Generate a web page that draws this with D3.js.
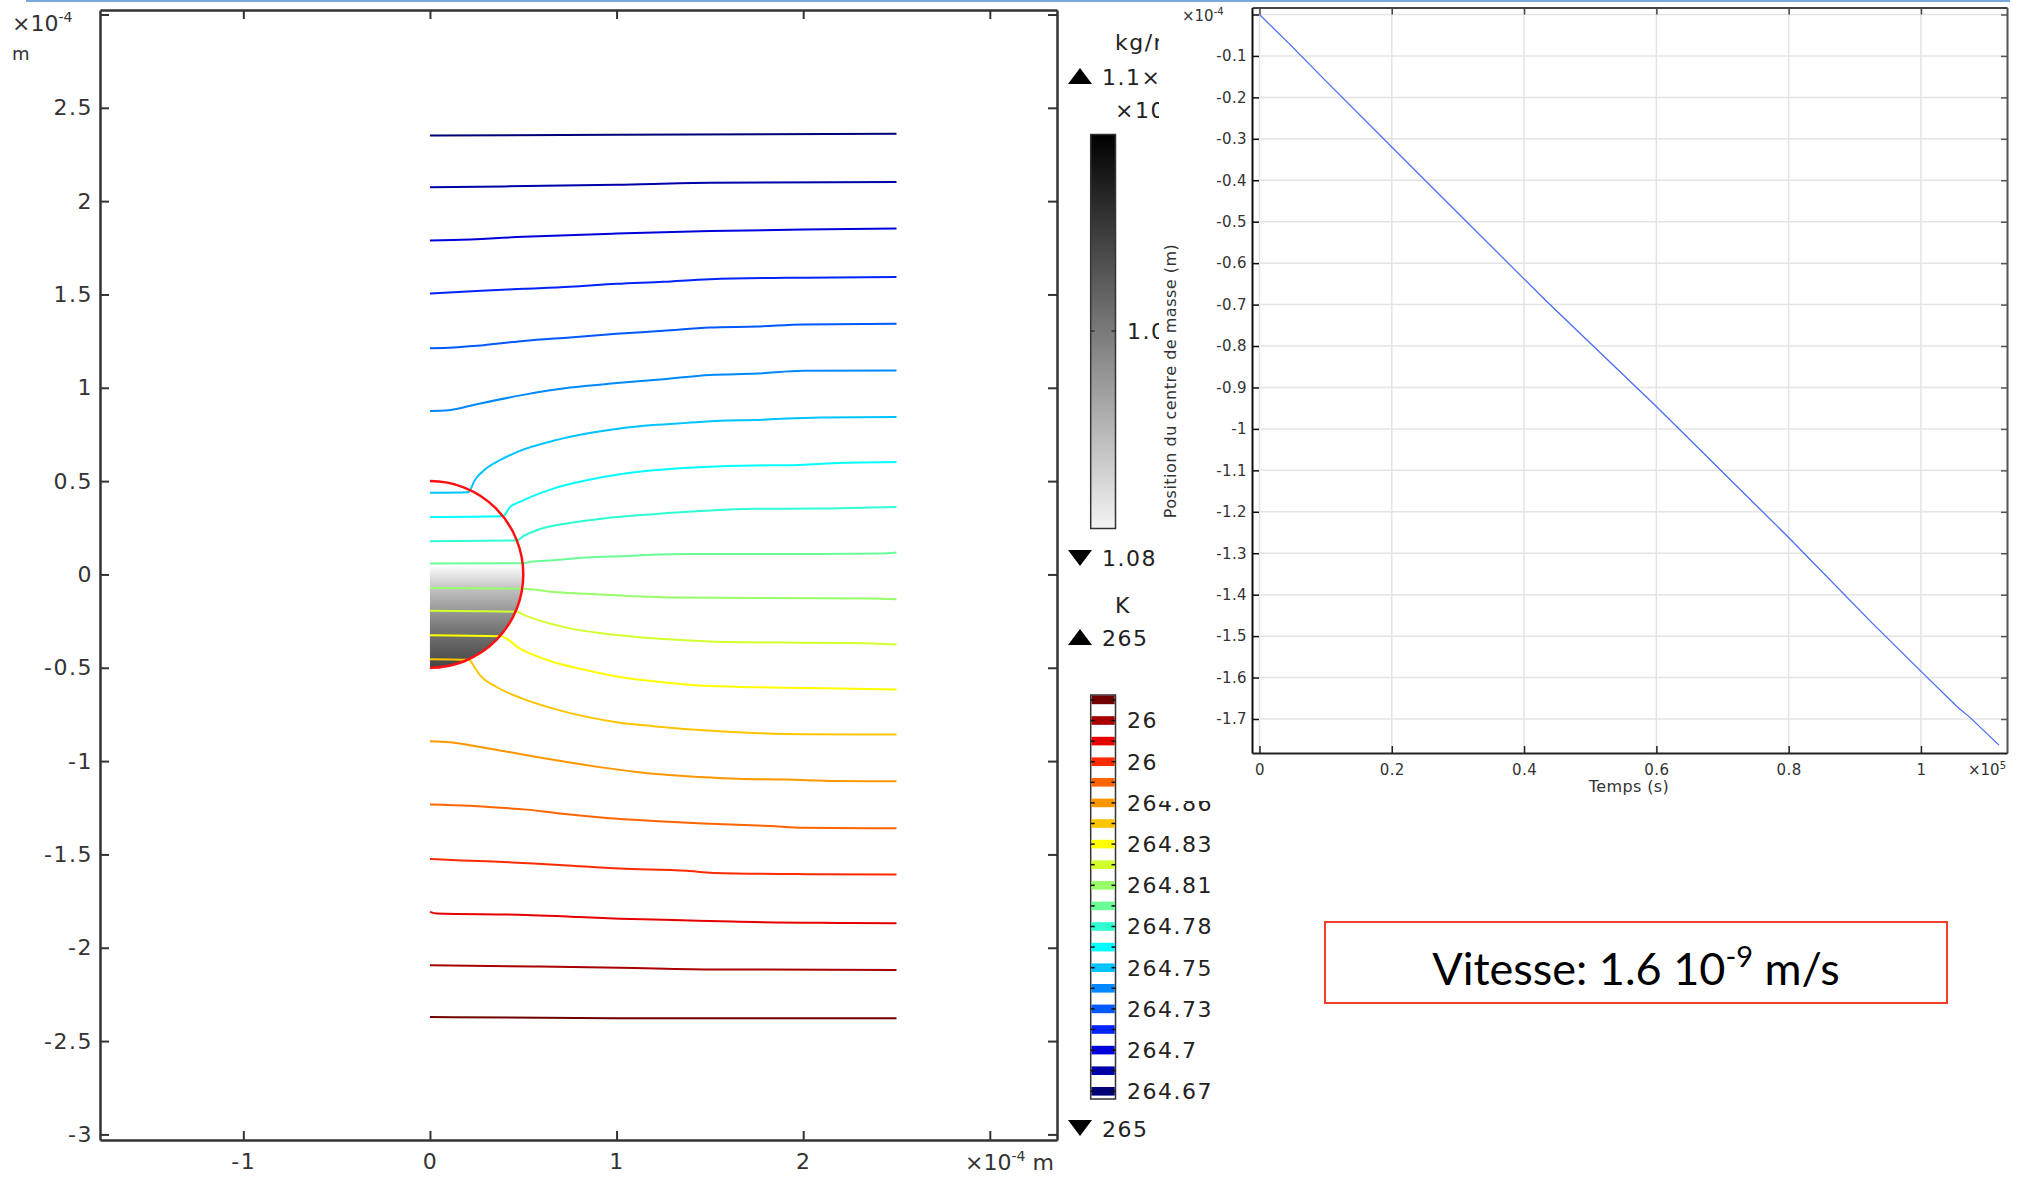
<!DOCTYPE html>
<html>
<head>
<meta charset="utf-8">
<script src="https://cdn.jsdelivr.net/npm/d3@7"></script>
<style>
  body { margin: 0; background: #fff; }
  svg text { font-family: "DejaVu Sans", sans-serif; }
</style>
</head>
<body>
<div id="chart"></div>
<script>
// isotherms, x and y in 1e-4 m, read from top to bottom
var line01 = [[0,2.352],[1.0,2.355],[2.5,2.361]];
var line02 = [[0,2.075],[0.4,2.079],[1.0,2.088],[1.5,2.098],[2.5,2.102]];
var line03 = [[0,1.789],[0.125,1.792],[0.5,1.809],[1.0,1.826],[1.5,1.840],[2.0,1.848],[2.5,1.853]];
var line04 = [[0,1.505],[0.25,1.519],[0.5,1.530],[0.75,1.541],[1.0,1.557],[1.25,1.568],[1.5,1.582],[2.0,1.590],[2.5,1.593]];
var line05 = [[0,1.212],[0.125,1.216],[0.25,1.225],[0.5,1.251],[0.75,1.270],[1.0,1.289],[1.25,1.305],[1.5,1.323],[1.75,1.328],[2.0,1.339],[2.5,1.343]];
var line06 = [[0,0.876],[0.1,0.880],[0.25,0.912],[0.5,0.962],[0.75,1.001],[1.0,1.025],[1.25,1.046],[1.5,1.069],[1.75,1.076],[2.0,1.091],[2.5,1.093]];
var line07 = [[0,0.437],[0.205,0.440],[0.24,0.505],[0.304,0.570],[0.375,0.612],[0.482,0.662],[0.661,0.716],[0.840,0.755],[1.018,0.782],[1.197,0.800],[1.376,0.812],[1.554,0.823],[1.733,0.827],[2.09,0.841],[2.5,0.843]];
var line08 = [[0,0.308],[0.39,0.312],[0.429,0.362],[0.482,0.389],[0.661,0.460],[0.840,0.505],[1.018,0.537],[1.197,0.558],[1.465,0.576],[1.733,0.584],[1.911,0.585],[2.215,0.598],[2.5,0.602]];
var line09 = [[0,0.178],[0.466,0.182],[0.50,0.205],[0.572,0.237],[0.750,0.276],[0.929,0.300],[1.197,0.323],[1.465,0.341],[1.733,0.352],[2.09,0.353],[2.358,0.359],[2.5,0.361]];
var line10 = [[0,0.058],[0.500,0.060],[0.536,0.067],[0.661,0.076],[0.840,0.091],[1.018,0.098],[1.376,0.109],[2.09,0.109],[2.412,0.112],[2.5,0.118]];
var line11 = [[0,-0.073],[0.504,-0.076],[0.661,-0.094],[0.822,-0.103],[1.018,-0.113],[1.340,-0.124],[1.733,-0.126],[2.358,-0.129],[2.5,-0.133]];
var line12 = [[0,-0.195],[0.464,-0.200],[0.50,-0.215],[0.572,-0.242],[0.715,-0.281],[0.929,-0.317],[1.108,-0.335],[1.304,-0.349],[1.590,-0.362],[1.911,-0.365],[2.269,-0.367],[2.5,-0.375]];
var line13 = [[0,-0.326],[0.378,-0.331],[0.482,-0.397],[0.661,-0.469],[0.840,-0.513],[1.018,-0.549],[1.286,-0.581],[1.465,-0.597],[1.733,-0.604],[2.001,-0.608],[2.269,-0.612],[2.5,-0.617]];
var line14 = [[0,-0.454],[0.208,-0.457],[0.24,-0.500],[0.268,-0.540],[0.357,-0.603],[0.482,-0.660],[0.661,-0.719],[0.840,-0.763],[1.018,-0.794],[1.197,-0.813],[1.465,-0.835],[1.733,-0.849],[2.001,-0.856],[2.5,-0.858]];
var line15 = [[0,-0.894],[0.107,-0.899],[0.214,-0.915],[0.393,-0.946],[0.572,-0.978],[0.750,-1.008],[0.929,-1.035],[1.108,-1.058],[1.376,-1.081],[1.644,-1.094],[1.911,-1.099],[2.179,-1.106],[2.5,-1.108]];
var line16 = [[0,-1.232],[0.214,-1.239],[0.339,-1.247],[0.518,-1.260],[0.697,-1.281],[0.947,-1.305],[1.197,-1.321],[1.465,-1.335],[1.822,-1.348],[2.001,-1.357],[2.5,-1.360]];
var line17 = [[0,-1.524],[0.143,-1.531],[0.393,-1.540],[0.554,-1.549],[0.715,-1.558],[1.018,-1.576],[1.376,-1.588],[1.519,-1.599],[2.027,-1.606],[2.5,-1.608]];
var line18 = [[0,-1.808],[0.036,-1.817],[0.518,-1.824],[0.777,-1.835],[1.018,-1.844],[1.304,-1.851],[1.617,-1.860],[2.251,-1.867],[2.5,-1.869]];
var line19 = [[0,-2.094],[0.554,-2.100],[1.018,-2.107],[1.536,-2.116],[2.5,-2.119]];
var line20 = [[0,-2.371],[0.982,-2.378],[2.5,-2.378]];
var isotherms = [line01,line02,line03,line04,line05,line06,line07,line08,line09,line10,
                 line11,line12,line13,line14,line15,line16,line17,line18,line19,line20];

// colour legend bands, top (hot) to bottom (cold)
var bandColors = ["#700000","#a80000","#e60000","#ff2a00","#ff6400","#ff9600","#ffc400","#ffff00","#d2ff2d","#96ff69",
                  "#69ff96","#2dffd2","#00ffff","#00c4ff","#0088ff","#0058ff","#0024ff","#0000dc","#0000a8","#000078"];
var tempLabels = ["264.91","264.88","264.86","264.83","264.81","264.78","264.75","264.73","264.7","264.67"];
var tempLabelBands = [1,3,5,7,9,11,13,15,17,19];

var leftXTicks = [-1,0,1,2,3];
var leftYTicks = [3,2.5,2,1.5,1,0.5,0,-0.5,-1,-1.5,-2,-2.5,-3];
var sphereRadius = 0.5;

// position of centre of mass, time in 1e5 s, position in 1e-4 m
var timeValues = [0,0.046,0.105,0.254,0.432,0.6,0.8,0.926,1.004,1.054,1.074,1.097,1.118];
var positionValues = [0,-0.072,-0.168,-0.406,-0.689,-0.946,-1.262,-1.468,-1.591,-1.669,-1.696,-1.731,-1.763];
var rightXTicks = [0,0.2,0.4,0.6,0.8,1];
var rightYTicks = [0,-0.1,-0.2,-0.3,-0.4,-0.5,-0.6,-0.7,-0.8,-0.9,-1,-1.1,-1.2,-1.3,-1.4,-1.5,-1.6,-1.7];

var svg = d3.select("#chart").append("svg")
            .attr("width", 2031)
            .attr("height", 1180);

var defs = svg.append("defs");

//---------------- left plot ----------------
var xL = d3.scaleLinear().domain([-1.768, 3.36]).range([100, 1057]);
var yL = d3.scaleLinear().domain([-3.03, 3.024]).range([1140, 10]);

var shade = defs.append("linearGradient").attr("id", "shade")
   .attr("gradientUnits", "userSpaceOnUse")
   .attr("x1", 0).attr("x2", 0)
   .attr("y1", yL(0.05)).attr("y2", yL(-0.5));
shade.append("stop").attr("offset", 0).attr("stop-color", "#ffffff");
shade.append("stop").attr("offset", 0.25).attr("stop-color", "#bdbdbd");
shade.append("stop").attr("offset", 0.6).attr("stop-color", "#7a7a7a");
shade.append("stop").attr("offset", 1).attr("stop-color", "#444444");

var leftPlot = svg.append("g");
var r = xL(sphereRadius) - xL(0);

// density shading inside the half sphere
leftPlot.append("path")
  .attr("d", "M" + xL(0) + "," + yL(sphereRadius) +
             " A" + r + "," + r + " 0 0 1 " + xL(0) + "," + yL(-sphereRadius) + " Z")
  .style("fill", "url(#shade)");

var isoLine = d3.line()
  .x(d => xL(d[0]))
  .y(d => yL(d[1]))
  .curve(d3.curveMonotoneX);

leftPlot.selectAll(".iso").data(isotherms).enter().append("path")
  .attr("class", "iso")
  .attr("d", isoLine)
  .style("fill", "none")
  .style("stroke-width", 2)
  .style("stroke", (d, i) => bandColors[bandColors.length - 1 - i]);

// sphere boundary
leftPlot.append("path")
  .attr("d", "M" + xL(0) + "," + yL(sphereRadius) +
             " A" + r + "," + r + " 0 0 1 " + xL(0) + "," + yL(-sphereRadius))
  .style("fill", "none")
  .style("stroke", "#ff1010")
  .style("stroke-width", 2.5);

function styleAxis(g) {
  g.select(".domain").style("stroke", "#333").style("stroke-width", 2.5);
  g.selectAll(".tick line").style("stroke", "#333").style("stroke-width", 2);
  g.selectAll(".tick text").style("fill", "#333").style("font-size", "22px")
    .style("letter-spacing", "1.5px").style("font-family", "DejaVu Sans");
}

var noThree = d => (d === 3 ? "" : String(d));

leftPlot.append("g")
  .attr("transform", "translate(100,0)")
  .call(d3.axisLeft(yL).tickValues(leftYTicks).tickSize(-9).tickSizeOuter(0).tickPadding(7).tickFormat(noThree))
  .call(styleAxis);
leftPlot.append("g")
  .attr("transform", "translate(1057,0)")
  .call(d3.axisRight(yL).tickValues(leftYTicks).tickSize(-9).tickSizeOuter(0).tickFormat(""))
  .call(styleAxis);
leftPlot.append("g")
  .attr("transform", "translate(0,1140)")
  .call(d3.axisBottom(xL).tickValues(leftXTicks).tickSize(-9).tickSizeOuter(0).tickPadding(13).tickFormat(noThree))
  .call(styleAxis);
leftPlot.append("g")
  .attr("transform", "translate(0,10)")
  .call(d3.axisTop(xL).tickValues(leftXTicks).tickSize(-9).tickSizeOuter(0).tickFormat(""))
  .call(styleAxis);

// unit labels of the left plot
var topUnit = leftPlot.append("text").attr("x", 12).attr("y", 31)
  .style("font-size", "22px").style("fill", "#333");
topUnit.append("tspan").text("×10");
topUnit.append("tspan").attr("dy", -9).style("font-size", "14px").text("-4");
leftPlot.append("text").attr("x", 12).attr("y", 60)
  .style("font-size", "18px").style("fill", "#333").text("m");

var bottomUnit = leftPlot.append("text").attr("x", 965).attr("y", 1170)
  .style("font-size", "22px").style("fill", "#333");
bottomUnit.append("tspan").text("×10");
bottomUnit.append("tspan").attr("dy", -9).style("font-size", "14px").text("-4");
bottomUnit.append("tspan").attr("dy", 9).text(" m");

//---------------- legends ----------------
var legend = svg.append("g");
var barX = 1090.7, barW = 24.8;

var grayGrad = defs.append("linearGradient").attr("id", "grayBar")
  .attr("x1", 0).attr("x2", 0).attr("y1", 0).attr("y2", 1);
grayGrad.append("stop").attr("offset", 0).attr("stop-color", "#000000");
grayGrad.append("stop").attr("offset", 1).attr("stop-color", "#f4f4f4");

function upTri(cx, cy) {
  return "M" + (cx - 12) + "," + (cy + 8) + "L" + cx + "," + (cy - 8) + "L" + (cx + 12) + "," + (cy + 8) + "Z";
}
function downTri(cx, cy) {
  return "M" + (cx - 12) + "," + (cy - 8) + "L" + cx + "," + (cy + 8) + "L" + (cx + 12) + "," + (cy - 8) + "Z";
}
function legendText(x, y, txt) {
  return legend.append("text").attr("x", x).attr("y", y).attr("dy", "0.36em")
    .style("font-size", "22px").style("letter-spacing", "1.5px").style("fill", "#222").text(txt);
}

// density (kg/m3)
legendText(1115, 42, "kg/m³");
legend.append("path").attr("d", upTri(1080, 76)).style("fill", "#000");
legendText(1102, 77, "1.1×10³");
legendText(1115, 110, "×10³");
legend.append("rect").attr("x", barX).attr("y", 134.5).attr("width", barW).attr("height", 394)
  .style("fill", "url(#grayBar)").style("stroke", "#333").style("stroke-width", 1.5);
legend.append("line").attr("x1", barX).attr("x2", barX + 4).attr("y1", 331).attr("y2", 331).style("stroke", "#111");
legend.append("line").attr("x1", barX + barW - 4).attr("x2", barX + barW).attr("y1", 331).attr("y2", 331).style("stroke", "#111");
legendText(1127, 331, "1.09");
legend.append("path").attr("d", downTri(1080, 558)).style("fill", "#000");
legendText(1102, 558, "1.08");

// temperature (K)
legendText(1115, 605, "K");
legend.append("path").attr("d", upTri(1080, 637)).style("fill", "#000");
legendText(1102, 638, "265");

var yBand = d3.scaleLinear().domain([0, 19]).range([695.6, 1087]);
legend.append("rect").attr("x", barX).attr("y", 695).attr("width", barW).attr("height", 404)
  .style("fill", "#fff").style("stroke", "#333").style("stroke-width", 1.5);
legend.selectAll(".band").data(bandColors).enter().append("rect")
  .attr("class", "band")
  .attr("x", barX + 0.8).attr("width", barW - 1.6)
  .attr("y", (d, i) => yBand(i))
  .attr("height", 8.6)
  .style("fill", d => d);
legend.selectAll(".btickL").data(bandColors).enter().append("line")
  .attr("x1", barX).attr("x2", barX + 4)
  .attr("y1", (d, i) => yBand(i) + 4.3).attr("y2", (d, i) => yBand(i) + 4.3)
  .style("stroke", "#111").style("stroke-width", 1.5);
legend.selectAll(".btickR").data(bandColors).enter().append("line")
  .attr("x1", barX + barW - 4).attr("x2", barX + barW)
  .attr("y1", (d, i) => yBand(i) + 4.3).attr("y2", (d, i) => yBand(i) + 4.3)
  .style("stroke", "#111").style("stroke-width", 1.5);
legend.selectAll(".tlab").data(tempLabels).enter().append("text")
  .attr("x", 1127)
  .attr("y", (d, i) => yBand(tempLabelBands[i]) + 4.3)
  .attr("dy", "0.36em")
  .style("font-size", "22px").style("letter-spacing", "1.5px").style("fill", "#222")
  .text(d => d);
legend.append("path").attr("d", downTri(1080, 1128)).style("fill", "#000");
legendText(1102, 1129, "265");

//---------------- right plot (pasted over the legend) ----------------
svg.append("rect").attr("x", 1159).attr("y", 0).attr("width", 872).attr("height", 801).style("fill", "#fff");

var xR = d3.scaleLinear().domain([-0.0113, 1.1301]).range([1252, 2007]);
var yR = d3.scaleLinear().domain([-1.782, 0.0169]).range([753, 7.5]);
var rightPlot = svg.append("g");

rightPlot.selectAll(".vgrid").data(rightXTicks).enter().append("line")
  .attr("x1", d => xR(d)).attr("x2", d => xR(d))
  .attr("y1", yR.range()[1]).attr("y2", yR.range()[0])
  .style("stroke", "#e4e4e4").style("stroke-width", 1.5);
rightPlot.selectAll(".hgrid").data(rightYTicks).enter().append("line")
  .attr("x1", xR.range()[0]).attr("x2", xR.range()[1])
  .attr("y1", d => yR(d)).attr("y2", d => yR(d))
  .style("stroke", "#e4e4e4").style("stroke-width", 1.5);

var posLine = d3.line()
  .x((d, i) => xR(timeValues[i]))
  .y(d => yR(d));
rightPlot.append("path")
  .datum(positionValues)
  .attr("d", posLine)
  .style("fill", "none")
  .style("stroke", "#4a6cf5")
  .style("stroke-width", 1.3);

function styleSmall(g, col) {
  g.select(".domain").style("stroke", col).style("stroke-width", 2);
  g.selectAll(".tick line").style("stroke", col).style("stroke-width", 1.5);
  g.selectAll(".tick text").style("fill", "#333").style("font-size", "15px")
    .style("letter-spacing", "0.4px").style("font-family", "DejaVu Sans");
}

rightPlot.append("g")
  .attr("transform", "translate(2007,0)")
  .call(d3.axisRight(yR).tickValues(rightYTicks).tickSize(-6).tickSizeOuter(0).tickFormat(""))
  .call(g => styleSmall(g, "#555"));
rightPlot.append("g")
  .attr("transform", "translate(0,7.5)")
  .call(d3.axisTop(xR).tickValues(rightXTicks).tickSize(-7).tickSizeOuter(0).tickFormat(""))
  .call(g => styleSmall(g, "#444"));
rightPlot.append("g")
  .attr("transform", "translate(1252,0)")
  .call(d3.axisLeft(yR).tickValues(rightYTicks).tickSize(-7).tickSizeOuter(0).tickPadding(5)
        .tickFormat(d => (d === 0 ? "" : String(d))))
  .call(g => styleSmall(g, "#111"));
rightPlot.append("g")
  .attr("transform", "translate(0,753)")
  .call(d3.axisBottom(xR).tickValues(rightXTicks).tickSize(-7).tickSizeOuter(0).tickPadding(11)
        .tickFormat(d => String(d)))
  .call(g => styleSmall(g, "#222"));

var yUnit = rightPlot.append("text").attr("x", 1182).attr("y", 21)
  .style("font-size", "15px").style("fill", "#333");
yUnit.append("tspan").text("×10");
yUnit.append("tspan").attr("dy", -6).style("font-size", "10px").text("-4");

var xUnit = rightPlot.append("text").attr("x", 1968).attr("y", 775)
  .style("font-size", "15px").style("fill", "#333");
xUnit.append("tspan").text("×10");
xUnit.append("tspan").attr("dy", -6).style("font-size", "10px").text("5");

rightPlot.append("text")
  .attr("x", 1629).attr("y", 792)
  .attr("text-anchor", "middle")
  .style("font-size", "16px").style("letter-spacing", "0.4px").style("fill", "#333")
  .text("Temps (s)");
rightPlot.append("text")
  .attr("transform", "translate(1170,381) rotate(-90)")
  .attr("text-anchor", "middle")
  .attr("dy", "0.35em")
  .style("font-size", "16px").style("letter-spacing", "0.5px").style("fill", "#333")
  .text("Position du centre de masse (m)");

//---------------- speed box ----------------
svg.append("rect").attr("x", 1325).attr("y", 922).attr("width", 622).attr("height", 81)
  .style("fill", "#fff").style("stroke", "#f0402a").style("stroke-width", 2);
var speed = svg.append("text").attr("x", 1636).attr("y", 985)
  .attr("text-anchor", "middle")
  .style("font-family", "Lato, sans-serif").style("font-size", "45px").style("fill", "#000");
speed.append("tspan").text("Vitesse: 1.6 10");
speed.append("tspan").attr("dy", -18).style("font-size", "29px").text("-9");
speed.append("tspan").attr("dy", 18).text(" m/s");

// thin slide border at the top
svg.append("line").attr("x1", 26).attr("x2", 2010).attr("y1", 1).attr("y2", 1)
  .style("stroke", "#7aa7dc").style("stroke-width", 2);
</script>
</body>
</html>
